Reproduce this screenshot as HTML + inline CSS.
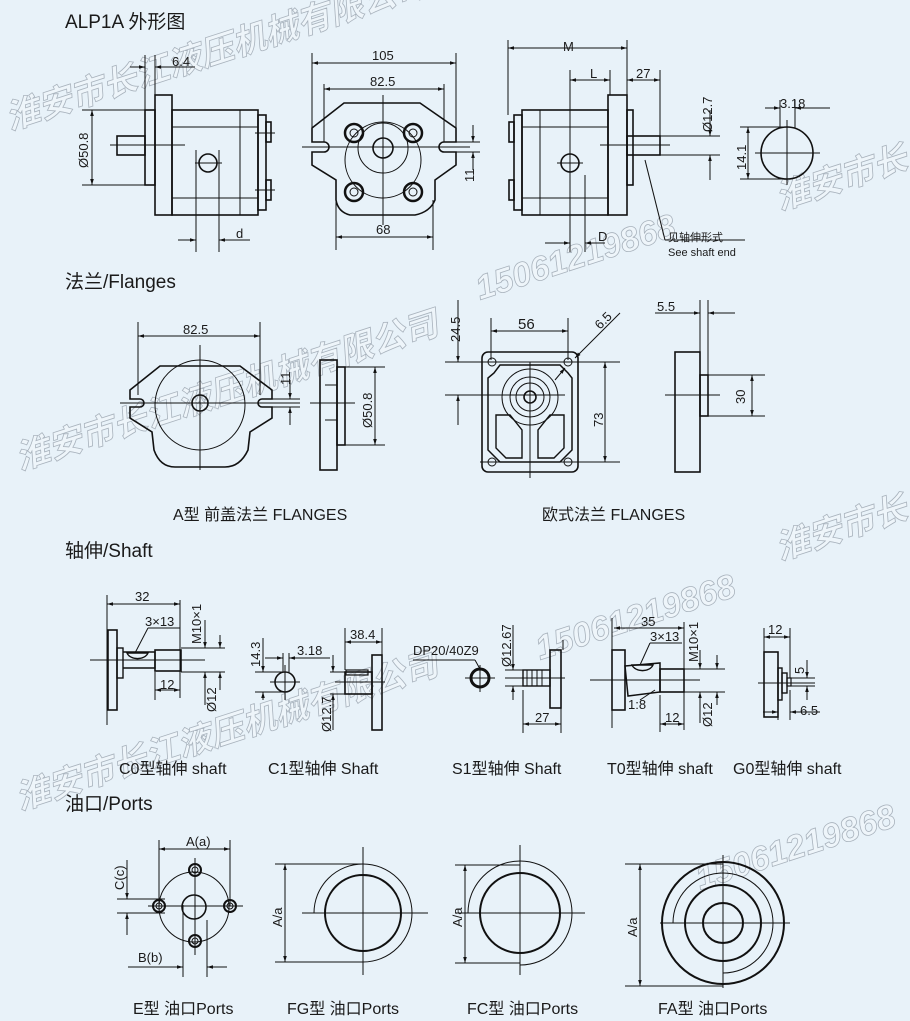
<!DOCTYPE html>
<html><head><meta charset="utf-8"><style>
html,body{margin:0;padding:0;background:#e8f2f9;}
svg{display:block}
text{font-family:"Liberation Sans","Noto Sans CJK SC",sans-serif;fill:#1a1a1a}
.t{font-size:19px}
.s{font-size:13px}
.l{font-size:16px}
.wm text{font-family:"Liberation Sans","Noto Sans CJK SC",sans-serif;font-weight:bold;font-style:italic;fill:#eef5fa;stroke:#a9b3bd;stroke-width:0.8}
</style></head><body>
<svg width="910" height="1021" viewBox="0 0 910 1021" xmlns="http://www.w3.org/2000/svg">
<defs>
<marker id="a" viewBox="0 0 10 10" refX="10" refY="5" markerWidth="8" markerHeight="6" orient="auto-start-reverse"><path d="M0,2 L10,5 L0,8z" fill="#111"/></marker>
</defs>
<rect width="910" height="1021" fill="#e8f2f9"/>

<g class="wm" font-size="34">
<text x="10" y="130" transform="rotate(-18 10 130)">淮安市长江液压机械有限公司</text>
<text x="20" y="470" transform="rotate(-18 20 470)">淮安市长江液压机械有限公司</text>
<text x="20" y="810" transform="rotate(-18 20 810)">淮安市长江液压机械有限公司</text>
<text x="780" y="210" transform="rotate(-18 780 210)">淮安市长</text>
<text x="780" y="560" transform="rotate(-18 780 560)">淮安市长</text>
<text x="480" y="300" transform="rotate(-18 480 300)">15061219868</text>
<text x="540" y="660" transform="rotate(-18 540 660)">15061219868</text>
<text x="700" y="890" transform="rotate(-18 700 890)">15061219868</text>
</g>

<g fill="none" stroke="#111" stroke-width="1">
<g stroke-width="1.6">
<rect x="155" y="95" width="17" height="120"/>
<rect x="172" y="110" width="86" height="105"/>
<rect x="258" y="115" width="8" height="95"/>
<rect x="117" y="136" width="28" height="19"/>
<rect x="145" y="110" width="10" height="75"/>
<rect x="266" y="122" width="5" height="20"/>
<rect x="266" y="180" width="5" height="20"/>
<circle cx="208" cy="163" r="9"/>
</g>
<line x1="172" y1="127" x2="258" y2="127"/><line x1="172" y1="198" x2="258" y2="198"/>
<line x1="240" y1="110" x2="240" y2="215"/>
<line x1="110" y1="145" x2="185" y2="145"/><line x1="255" y1="133" x2="275" y2="133"/><line x1="255" y1="190" x2="275" y2="190"/>
<line x1="195" y1="163" x2="222" y2="163"/><line x1="196" y1="150" x2="196" y2="252"/><line x1="219" y1="150" x2="219" y2="252"/>
<line x1="178" y1="240" x2="196" y2="240" marker-end="url(#a)"/><line x1="250" y1="240" x2="219" y2="240" marker-end="url(#a)"/>
<line x1="82" y1="110" x2="150" y2="110"/><line x1="82" y1="185" x2="150" y2="185"/>
<line x1="92" y1="110" x2="92" y2="185" marker-start="url(#a)" marker-end="url(#a)"/>
<line x1="145" y1="55" x2="145" y2="110"/><line x1="155" y1="55" x2="155" y2="95"/>
<line x1="130" y1="67" x2="145" y2="67" marker-end="url(#a)"/><line x1="195" y1="67" x2="155" y2="67" marker-end="url(#a)"/>

<path stroke-width="1.6" d="M312,128 L344,103 L420,103 L456,128 L456,142 L444,142 A5,5 0 0 0 444,152 L456,152 L456,165 L435,180 L435,200 Q430,212 415,215 L350,215 Q338,212 336,200 L336,180 L312,165 L312,152 L324,152 A5,5 0 0 0 324,142 L312,142 Z"/>
<circle cx="383" cy="160" r="38"/>
<circle cx="383" cy="148" r="25"/><circle cx="383" cy="148" r="10" stroke-width="1.6"/>
<g stroke-width="2.5"><circle cx="354" cy="133" r="9"/><circle cx="413" cy="133" r="9"/><circle cx="354" cy="192" r="9"/><circle cx="413" cy="192" r="9"/></g>
<circle cx="354" cy="133" r="4"/><circle cx="413" cy="133" r="4"/><circle cx="354" cy="192" r="4"/><circle cx="413" cy="192" r="4"/>
<line x1="302" y1="147" x2="470" y2="147"/><line x1="383" y1="95" x2="383" y2="225"/>
<line x1="312" y1="53" x2="312" y2="128"/><line x1="456" y1="53" x2="456" y2="128"/>
<line x1="312" y1="63" x2="456" y2="63" marker-start="url(#a)" marker-end="url(#a)"/>
<line x1="324" y1="84" x2="324" y2="142"/><line x1="444" y1="84" x2="444" y2="142"/>
<line x1="324" y1="89" x2="444" y2="89" marker-start="url(#a)" marker-end="url(#a)"/>
<line x1="336" y1="200" x2="336" y2="250"/><line x1="433" y1="200" x2="433" y2="250"/>
<line x1="336" y1="237" x2="433" y2="237" marker-start="url(#a)" marker-end="url(#a)"/>
<line x1="456" y1="142" x2="480" y2="142"/><line x1="456" y1="152" x2="480" y2="152"/>
<line x1="473" y1="125" x2="473" y2="142" marker-end="url(#a)"/><line x1="473" y1="170" x2="473" y2="152" marker-end="url(#a)"/>

<g stroke-width="1.6">
<rect x="608" y="95" width="19" height="120"/>
<rect x="522" y="110" width="86" height="105"/>
<rect x="514" y="115" width="8" height="95"/>
<rect x="627" y="136" width="33" height="19"/>
<rect x="627" y="110" width="6" height="75"/>
<rect x="509" y="122" width="5" height="20"/><rect x="509" y="180" width="5" height="20"/>
<circle cx="570" cy="163" r="9"/>
</g>
<line x1="522" y1="127" x2="608" y2="127"/><line x1="522" y1="198" x2="608" y2="198"/>
<line x1="540" y1="110" x2="540" y2="215"/>
<line x1="600" y1="145" x2="670" y2="145"/>
<line x1="557" y1="163" x2="583" y2="163"/><line x1="570" y1="150" x2="570" y2="252"/><line x1="585" y1="175" x2="585" y2="252"/>
<line x1="545" y1="243" x2="570" y2="243" marker-end="url(#a)"/><line x1="605" y1="243" x2="585" y2="243" marker-end="url(#a)"/>
<line x1="508" y1="40" x2="508" y2="115"/><line x1="627" y1="40" x2="627" y2="95"/>
<line x1="508" y1="48" x2="627" y2="48" marker-start="url(#a)" marker-end="url(#a)"/>
<line x1="570" y1="70" x2="570" y2="150"/><line x1="610" y1="70" x2="610" y2="95"/>
<line x1="570" y1="80" x2="610" y2="80" marker-start="url(#a)" marker-end="url(#a)"/>
<line x1="660" y1="70" x2="660" y2="136"/>
<line x1="627" y1="80" x2="660" y2="80" marker-start="url(#a)" marker-end="url(#a)"/>
<line x1="660" y1="136" x2="720" y2="136"/><line x1="660" y1="155" x2="720" y2="155"/>
<line x1="710" y1="110" x2="710" y2="136" marker-end="url(#a)"/><line x1="710" y1="180" x2="710" y2="155" marker-end="url(#a)"/>
<line x1="645" y1="160" x2="665" y2="240"/><line x1="665" y1="240" x2="745" y2="240"/>
<circle cx="787" cy="153" r="26" stroke-width="1.6"/>
<line x1="755" y1="153" x2="820" y2="153"/><line x1="787" y1="120" x2="787" y2="185"/>
<line x1="780" y1="100" x2="780" y2="128"/><line x1="795" y1="100" x2="795" y2="128"/>
<line x1="765" y1="108" x2="780" y2="108" marker-end="url(#a)"/><line x1="830" y1="108" x2="795" y2="108" marker-end="url(#a)"/>
<line x1="740" y1="127" x2="787" y2="127"/><line x1="740" y1="179" x2="787" y2="179"/>
<line x1="748" y1="127" x2="748" y2="179" marker-start="url(#a)" marker-end="url(#a)"/>

<path stroke-width="1.6" d="M130,390 L160,366 L240,366 L272,390 L272,399 L262,399 A4,4 0 0 0 262,407 L272,407 L272,418 L250,432 L248,450 Q240,467 225,467 L175,467 Q160,467 154,450 L152,432 L130,418 L130,407 L140,407 A4,4 0 0 0 140,399 L130,399 Z"/>
<circle cx="200" cy="405" r="45"/><circle cx="200" cy="403" r="8" stroke-width="1.6"/>
<line x1="120" y1="403" x2="300" y2="403"/><line x1="200" y1="345" x2="200" y2="470"/>
<line x1="138" y1="322" x2="138" y2="395"/><line x1="260" y1="322" x2="260" y2="395"/>
<line x1="138" y1="336" x2="260" y2="336" marker-start="url(#a)" marker-end="url(#a)"/>
<line x1="272" y1="399" x2="300" y2="399"/><line x1="272" y1="407" x2="300" y2="407"/>
<line x1="290" y1="380" x2="290" y2="399" marker-end="url(#a)"/><line x1="290" y1="425" x2="290" y2="407" marker-end="url(#a)"/>
<rect x="320" y="360" width="17" height="110" stroke-width="1.6"/>
<rect x="337" y="367" width="8" height="78" stroke-width="1.6"/>
<line x1="325" y1="385" x2="337" y2="385"/><line x1="325" y1="420" x2="337" y2="420"/>
<line x1="310" y1="403" x2="355" y2="403"/>
<line x1="345" y1="367" x2="385" y2="367"/><line x1="345" y1="445" x2="385" y2="445"/>
<line x1="375" y1="367" x2="375" y2="445" marker-start="url(#a)" marker-end="url(#a)"/>

<rect x="482" y="352" width="96" height="120" rx="6" stroke-width="1.6"/>
<path stroke-width="1.5" d="M500,365 L560,365 L568,373 L572,378 L572,450 L566,456 L560,462 L500,462 L494,456 L488,450 L488,378 L494,373 Z"/>
<circle cx="530" cy="397" r="28"/><circle cx="530" cy="397" r="20"/><circle cx="530" cy="397" r="14"/><circle cx="530" cy="397" r="6" stroke-width="1.6"/>
<path d="M496,415 L510,415 L522,430 L522,458 L506,458 L496,448 Z" stroke-width="1.4"/>
<path d="M564,415 L550,415 L538,430 L538,458 L554,458 L564,448 Z" stroke-width="1.4"/>
<circle cx="492" cy="362" r="4"/><circle cx="568" cy="362" r="4"/><circle cx="492" cy="462" r="4"/><circle cx="568" cy="462" r="4"/>
<line x1="445" y1="362" x2="620" y2="362"/><line x1="445" y1="395" x2="565" y2="395"/><line x1="480" y1="462" x2="620" y2="462"/>
<line x1="530" y1="362" x2="530" y2="478"/>
<line x1="491" y1="318" x2="491" y2="360"/><line x1="568" y1="318" x2="568" y2="360"/>
<line x1="491" y1="331" x2="568" y2="331" marker-start="url(#a)" marker-end="url(#a)"/>
<line x1="605" y1="362" x2="605" y2="462" marker-start="url(#a)" marker-end="url(#a)"/>
<line x1="458" y1="300" x2="458" y2="362" marker-end="url(#a)"/><line x1="458" y1="425" x2="458" y2="395" marker-end="url(#a)"/>
<line x1="620" y1="313" x2="575" y2="358" marker-end="url(#a)"/><line x1="555" y1="380" x2="565" y2="368" marker-end="url(#a)"/>
<rect x="675" y="352" width="25" height="120" stroke-width="1.6"/>
<rect x="700" y="375" width="8" height="41" stroke-width="1.6"/>
<line x1="665" y1="395" x2="720" y2="395"/>
<line x1="700" y1="300" x2="700" y2="352"/><line x1="708" y1="300" x2="708" y2="375"/>
<line x1="655" y1="313" x2="700" y2="313" marker-end="url(#a)"/><line x1="735" y1="313" x2="708" y2="313" marker-end="url(#a)"/>
<line x1="708" y1="375" x2="765" y2="375"/><line x1="708" y1="416" x2="765" y2="416"/>
<line x1="752" y1="375" x2="752" y2="416" marker-start="url(#a)" marker-end="url(#a)"/>

<rect x="108" y="630" width="9" height="80" stroke-width="1.6"/>
<line x1="107" y1="595" x2="107" y2="725"/>
<rect x="117" y="648" width="6" height="30" stroke-width="1.4"/>
<path d="M123,652 L155,652 L155,668 L123,668" stroke-width="1.4"/>
<path d="M127,653 L148,653 A11,8 0 0 1 127,653Z" stroke-width="1.4"/>
<rect x="155" y="650" width="26" height="21" stroke-width="1.6"/>
<line x1="90" y1="660" x2="205" y2="660"/>
<line x1="180" y1="600" x2="180" y2="698"/>
<line x1="107" y1="604" x2="180" y2="604" marker-start="url(#a)" marker-end="url(#a)"/>
<line x1="135" y1="653" x2="148" y2="628"/><line x1="148" y1="628" x2="180" y2="628"/>
<line x1="155" y1="672" x2="155" y2="700"/>
<line x1="155" y1="690" x2="180" y2="690" marker-start="url(#a)" marker-end="url(#a)"/>
<line x1="181" y1="648" x2="225" y2="648"/><line x1="181" y1="672" x2="225" y2="672"/>
<line x1="205" y1="620" x2="205" y2="648" marker-end="url(#a)"/><line x1="205" y1="705" x2="205" y2="672" marker-end="url(#a)"/>
<line x1="220" y1="635" x2="220" y2="648" marker-end="url(#a)"/><line x1="220" y1="690" x2="220" y2="672" marker-end="url(#a)"/>
<circle cx="285" cy="682" r="10" stroke-width="1.6"/>
<line x1="270" y1="682" x2="300" y2="682"/><line x1="285" y1="665" x2="285" y2="700"/>
<line x1="283" y1="653" x2="283" y2="672"/><line x1="289" y1="653" x2="289" y2="672"/>
<line x1="265" y1="658" x2="283" y2="658" marker-end="url(#a)"/><line x1="330" y1="658" x2="289" y2="658" marker-end="url(#a)"/>
<line x1="255" y1="672" x2="285" y2="672"/><line x1="255" y1="692" x2="285" y2="692"/>
<line x1="263" y1="638" x2="263" y2="672" marker-end="url(#a)"/><line x1="263" y1="700" x2="263" y2="692" marker-end="url(#a)"/>
<rect x="372" y="655" width="10" height="75" stroke-width="1.6"/>
<rect x="345" y="672" width="27" height="22" stroke-width="1.6"/>
<rect x="346" y="670" width="22" height="5" stroke-width="1.2"/>
<line x1="335" y1="682" x2="385" y2="682"/>
<line x1="345" y1="628" x2="345" y2="670"/><line x1="382" y1="628" x2="382" y2="655"/>
<line x1="345" y1="642" x2="382" y2="642" marker-start="url(#a)" marker-end="url(#a)"/>
<line x1="330" y1="672" x2="345" y2="672"/><line x1="330" y1="694" x2="345" y2="694"/>
<line x1="333" y1="655" x2="333" y2="672" marker-end="url(#a)"/><line x1="333" y1="730" x2="333" y2="694" marker-end="url(#a)"/>
<circle cx="480" cy="678" r="9" stroke-width="3"/>
<line x1="465" y1="678" x2="495" y2="678"/><line x1="480" y1="665" x2="480" y2="692"/>
<line x1="413" y1="660" x2="475" y2="660"/><line x1="475" y1="660" x2="480" y2="669"/>
<rect x="550" y="650" width="11" height="58" stroke-width="1.6"/>
<rect x="523" y="670" width="27" height="16" stroke-width="1.4"/>
<line x1="527" y1="670" x2="527" y2="686"/><line x1="532" y1="670" x2="532" y2="686"/><line x1="537" y1="670" x2="537" y2="686"/><line x1="542" y1="670" x2="542" y2="686"/>
<line x1="505" y1="678" x2="565" y2="678"/>
<line x1="505" y1="670" x2="523" y2="670"/><line x1="505" y1="686" x2="523" y2="686"/>
<line x1="513" y1="625" x2="513" y2="670" marker-end="url(#a)"/><line x1="513" y1="700" x2="513" y2="686" marker-end="url(#a)"/>
<line x1="523" y1="690" x2="523" y2="733"/><line x1="561" y1="708" x2="561" y2="733"/>
<line x1="523" y1="724" x2="561" y2="724" marker-start="url(#a)" marker-end="url(#a)"/>
<line x1="563" y1="640" x2="563" y2="650"/>
<line x1="612" y1="618" x2="612" y2="728"/>
<rect x="612" y="650" width="13" height="60" stroke-width="1.6"/>
<path d="M625,666 L660,663 L660,692 L628,696 Z" stroke-width="1.5"/>
<rect x="660" y="669" width="24" height="23" stroke-width="1.6"/>
<path d="M632,665 L653,665 A11,8 0 0 1 632,665Z" stroke-width="1.4"/>
<line x1="590" y1="680" x2="700" y2="680"/>
<line x1="614" y1="628" x2="684" y2="628" marker-start="url(#a)" marker-end="url(#a)"/>
<line x1="684" y1="622" x2="684" y2="730"/>
<line x1="640" y1="665" x2="650" y2="643"/><line x1="650" y1="643" x2="682" y2="643"/>
<line x1="640" y1="700" x2="655" y2="690"/>
<line x1="660" y1="695" x2="660" y2="732"/>
<line x1="660" y1="724" x2="684" y2="724" marker-start="url(#a)" marker-end="url(#a)"/>
<line x1="684" y1="669" x2="725" y2="669"/><line x1="684" y1="692" x2="725" y2="692"/>
<line x1="700" y1="650" x2="700" y2="669" marker-end="url(#a)"/><line x1="700" y1="723" x2="700" y2="692" marker-end="url(#a)"/>
<line x1="717" y1="655" x2="717" y2="669" marker-end="url(#a)"/><line x1="717" y1="705" x2="717" y2="692" marker-end="url(#a)"/>
<rect x="764" y="652" width="14" height="65" stroke-width="1.6"/>
<rect x="778" y="668" width="4" height="32" stroke-width="1.4"/>
<rect x="782" y="673" width="5" height="20" stroke-width="1.4"/>
<rect x="787" y="678" width="4" height="8" stroke-width="1.2"/>
<line x1="758" y1="683" x2="815" y2="683"/>
<line x1="764" y1="628" x2="764" y2="652"/><line x1="790" y1="628" x2="790" y2="678"/>
<line x1="764" y1="637" x2="790" y2="637" marker-start="url(#a)" marker-end="url(#a)"/>
<line x1="790" y1="678" x2="815" y2="678"/><line x1="790" y1="686" x2="815" y2="686"/>
<line x1="807" y1="660" x2="807" y2="678" marker-end="url(#a)"/><line x1="807" y1="700" x2="807" y2="686" marker-end="url(#a)"/>
<line x1="778" y1="700" x2="778" y2="720"/><line x1="790" y1="690" x2="790" y2="720"/>
<line x1="763" y1="712" x2="778" y2="712" marker-end="url(#a)"/><line x1="820" y1="712" x2="790" y2="712" marker-end="url(#a)"/>

<circle cx="194" cy="907" r="35"/>
<circle cx="194" cy="907" r="12" stroke-width="1.6"/>
<g stroke-width="2"><circle cx="195" cy="870" r="6"/><circle cx="159" cy="906" r="6"/><circle cx="230" cy="906" r="6"/><circle cx="195" cy="941" r="6"/></g>
<g><circle cx="195" cy="870" r="3"/><circle cx="159" cy="906" r="3"/><circle cx="230" cy="906" r="3"/><circle cx="195" cy="941" r="3"/></g>
<line x1="148" y1="906" x2="243" y2="906"/><line x1="195" y1="858" x2="195" y2="955"/>
<line x1="159" y1="840" x2="159" y2="906"/><line x1="230" y1="840" x2="230" y2="906"/>
<line x1="159" y1="849" x2="230" y2="849" marker-start="url(#a)" marker-end="url(#a)"/>
<line x1="117" y1="899" x2="165" y2="899"/><line x1="117" y1="913" x2="165" y2="913"/>
<line x1="127" y1="860" x2="127" y2="899" marker-end="url(#a)"/><line x1="127" y1="935" x2="127" y2="913" marker-end="url(#a)"/>
<line x1="183" y1="905" x2="183" y2="977"/><line x1="207" y1="920" x2="207" y2="977"/>
<line x1="128" y1="967" x2="183" y2="967" marker-end="url(#a)"/><line x1="227" y1="967" x2="207" y2="967" marker-end="url(#a)"/>
<circle cx="363" cy="913" r="38" stroke-width="2"/>
<path d="M314,913 A49,49 0 1 1 363,962"/>
<line x1="302" y1="913" x2="428" y2="913"/><line x1="363" y1="847" x2="363" y2="975"/>
<line x1="275" y1="864" x2="363" y2="864"/><line x1="275" y1="962" x2="363" y2="962"/>
<line x1="285" y1="864" x2="285" y2="962" marker-start="url(#a)" marker-end="url(#a)"/>
<circle cx="520" cy="913" r="40" stroke-width="2"/>
<path d="M468,913 A52,52 0 1 1 520,965"/>
<line x1="455" y1="913" x2="585" y2="913"/><line x1="520" y1="845" x2="520" y2="975"/>
<line x1="455" y1="865" x2="520" y2="865"/><line x1="455" y1="963" x2="520" y2="963"/>
<line x1="465" y1="865" x2="465" y2="963" marker-start="url(#a)" marker-end="url(#a)"/>
<circle cx="723" cy="923" r="61" stroke-width="2"/>
<circle cx="723" cy="923" r="38" stroke-width="2"/>
<circle cx="723" cy="923" r="20" stroke-width="2"/>
<path d="M673,923 A50,50 0 1 1 723,973"/>
<line x1="660" y1="923" x2="790" y2="923"/><line x1="723" y1="855" x2="723" y2="988"/>
<line x1="625" y1="864" x2="723" y2="864"/><line x1="625" y1="986" x2="723" y2="986"/>
<line x1="640" y1="864" x2="640" y2="986" marker-start="url(#a)" marker-end="url(#a)"/>
</g>

<text class="t" x="65" y="28">ALP1A 外形图</text>
<text class="t" x="65" y="288">法兰/Flanges</text>
<text class="t" x="65" y="557">轴伸/Shaft</text>
<text class="t" x="65" y="810">油口/Ports</text>

<g class="s">
<text x="172" y="66">6.4</text>
<text x="372" y="60">105</text>
<text x="370" y="86">82.5</text>
<text x="376" y="234">68</text>
<text x="236" y="238">d</text>
<text x="598" y="241">D</text>
<text x="563" y="51">M</text>
<text x="590" y="78">L</text>
<text x="636" y="78">27</text>
<text x="780" y="108">3.18</text>
<text x="668" y="241" font-size="11">见轴伸形式</text>
<text x="668" y="256" font-size="11">See shaft end</text>
<text transform="translate(88,168) rotate(-90)">Ø50.8</text>
<text transform="translate(474,182) rotate(-90)">11</text>
<text transform="translate(712,132) rotate(-90)">Ø12.7</text>
<text transform="translate(746,170) rotate(-90)">14.1</text>

<text x="183" y="334">82.5</text>
<text transform="translate(290,385) rotate(-90)">11</text>
<text transform="translate(372,428) rotate(-90)">Ø50.8</text>
<text x="518" y="329" font-size="15">56</text>
<text transform="translate(460,342) rotate(-90)">24.5</text>
<text transform="translate(603,427) rotate(-90)">73</text>
<text transform="translate(600,330) rotate(-45)">6.5</text>
<text x="657" y="311">5.5</text>
<text transform="translate(745,404) rotate(-90)">30</text>

<text x="135" y="601">32</text>
<text x="145" y="626">3×13</text>
<text x="160" y="689">12</text>
<text transform="translate(201,644) rotate(-90)">M10×1</text>
<text transform="translate(216,712) rotate(-90)">Ø12</text>
<text transform="translate(260,667) rotate(-90)">14.3</text>
<text x="297" y="655">3.18</text>
<text x="350" y="639">38.4</text>
<text transform="translate(331,732) rotate(-90)">Ø12.7</text>
<text x="413" y="655">DP20/40Z9</text>
<text transform="translate(511,667) rotate(-90)">Ø12.67</text>
<text x="535" y="722">27</text>
<text x="641" y="626">35</text>
<text x="650" y="641">3×13</text>
<text x="628" y="709">1:8</text>
<text x="665" y="722">12</text>
<text transform="translate(698,662) rotate(-90)">M10×1</text>
<text transform="translate(712,727) rotate(-90)">Ø12</text>
<text x="768" y="634">12</text>
<text transform="translate(804,674) rotate(-90)">5</text>
<text x="800" y="715">6.5</text>

<text x="186" y="846">A(a)</text>
<text transform="translate(124,890) rotate(-90)">C(c)</text>
<text x="138" y="962">B(b)</text>
<text transform="translate(282,927) rotate(-90)">A/a</text>
<text transform="translate(462,927) rotate(-90)">A/a</text>
<text transform="translate(637,937) rotate(-90)">A/a</text>
</g>

<g class="l">
<text x="173" y="520">A型 前盖法兰 FLANGES</text>
<text x="542" y="520">欧式法兰 FLANGES</text>
<text x="119" y="774">C0型轴伸 shaft</text>
<text x="268" y="774">C1型轴伸 Shaft</text>
<text x="452" y="774">S1型轴伸 Shaft</text>
<text x="607" y="774">T0型轴伸 shaft</text>
<text x="733" y="774">G0型轴伸 shaft</text>
<text x="133" y="1014">E型 油口Ports</text>
<text x="287" y="1014">FG型 油口Ports</text>
<text x="467" y="1014">FC型 油口Ports</text>
<text x="658" y="1014">FA型 油口Ports</text>
</g>
</svg>
</body></html>
